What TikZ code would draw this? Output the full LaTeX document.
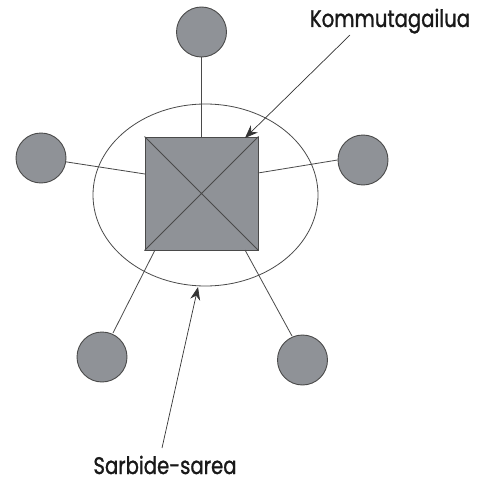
\documentclass[tikz,border=0pt]{standalone}
\usepackage{fontspec}
\setmainfont{Poppins}
\usetikzlibrary{arrows.meta}
\definecolor{fillgray}{HTML}{8F9297}
\definecolor{edgegray}{HTML}{4A4A4A}
\tikzset{
  station/.style={circle, draw=edgegray, fill=fillgray, line width=0.9pt, minimum size=50pt, inner sep=0pt},
  link/.style={draw=edgegray, line width=0.8pt},
  pointer/.style={draw=black!80, line width=0.7pt, -{Stealth[length=13pt,width=10pt]}},
  label/.style={font=\fontsize{24}{26}\selectfont\addfontfeature{FakeBold=1.3}, text=black!90, inner sep=0pt, text depth=0pt, xscale=0.82}
}
\begin{document}
\begin{tikzpicture}[x=1pt,y=-1pt]
\useasboundingbox (0,0) rectangle (480,479);
% area ellipse
\draw[edgegray, line width=0.8pt] (205.5,195) ellipse [x radius=112.5, y radius=91];
% switch
\node[draw=edgegray, fill=fillgray, line width=1pt, minimum size=113pt, inner sep=0pt] (sw) at (201.5,193.5) {};
\draw[edgegray, line width=0.8pt] (sw.north west) -- (sw.south east) (sw.north east) -- (sw.south west);
% stations
\node[station] (t) at (201.5,32) {};
\node[station] (l) at (41,158) {};
\node[station] (r) at (363,160) {};
\node[station] (bl) at (102,357) {};
\node[station] (br) at (302.5,360) {};
% links
\coordinate (sT) at (201.5,137);
\coordinate (sL) at (145,174);
\coordinate (sR) at (258,173);
\coordinate (sBL) at (155,250);
\coordinate (sBR) at (245,250);
\draw[link] (t.south) -- (sT);
\draw[link] (l) -- (sL);
\draw[link] (r.west) -- (sR);
\draw[link] (sBL) -- (113,333) coordinate (bl1);
\draw[link] (sBR) -- (292,336) coordinate (br1);
% labels
\node[label, anchor=base] (k) at (390,27) {Kommutagailua};
\node[label, anchor=base] (s) at (165,474) {Sarbide-sarea};
\coordinate (kt) at (350,35);
\coordinate (ka) at (245,138);
\coordinate (st) at (162,448);
\coordinate (sa) at (198,287);
\draw[pointer] (kt) -- (ka);
\draw[pointer] (st) -- (sa);
\end{tikzpicture}
\end{document}
